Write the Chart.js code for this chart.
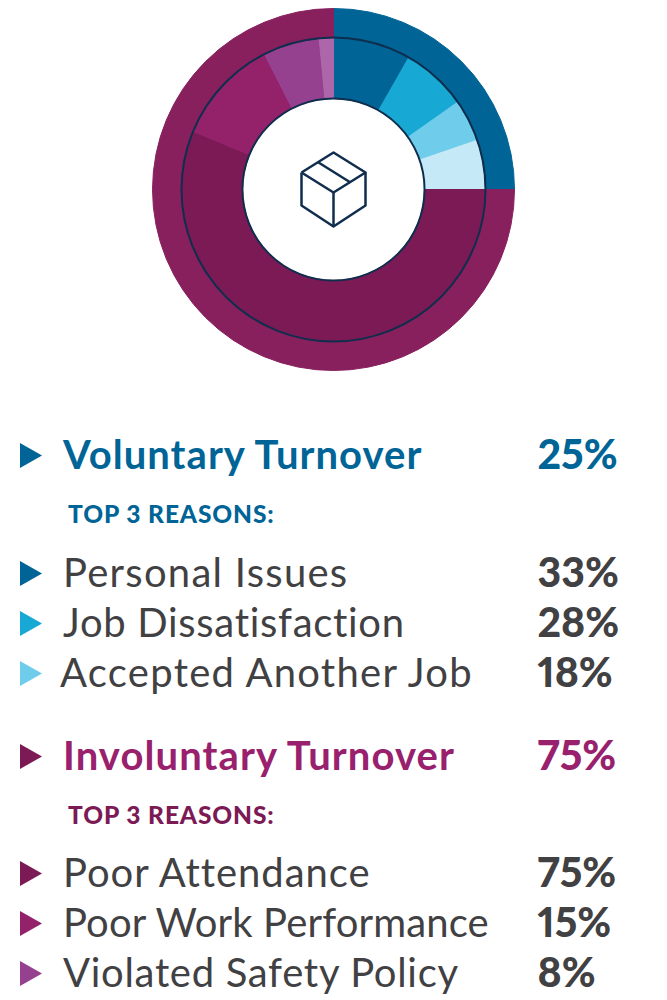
<!DOCTYPE html>
<html>
<head>
<meta charset="utf-8">
<script src="https://cdn.jsdelivr.net/npm/chart.js@4"></script>
<style>
  html, body { margin: 0; padding: 0; background: #fff; }
  body { position: relative; width: 667px; height: 1000px; overflow: hidden; font-family: "Lato", sans-serif; }
  #wrap { position: absolute; left: 151px; top: 7px; width: 365px; height: 365px; }
  .row { position: absolute; left: 0; width: 667px; height: 50px; line-height: 48px; white-space: nowrap; }
  .row svg { position: absolute; left: 20px; top: 13px; }
  .row .name { position: absolute; left: 63px; font-size: 40px; color: #414042; }
  .row .pct { position: absolute; left: 537.5px; font-size: 41px; font-weight: 900; color: #414042; font-variant-numeric: proportional-nums; }
  .row.head .name { font-weight: 700; }
  .row.sub .name { left: 68px; font-size: 24.5px; font-weight: 900; }
</style>
</head>
<body>
<div id="wrap"><canvas id="donut" width="365" height="365"></canvas></div>
<div id="legend"></div>
<script>
const groupLabels = ['Voluntary Turnover', 'Involuntary Turnover'];
const groupValues = [25, 75];
const groupColors = ['#006496', '#88205E'];

const voluntaryLabels = ['Personal Issues', 'Job Dissatisfaction', 'Accepted Another Job', 'Other'];
const voluntaryValues = [33, 28, 18, 21];
const voluntaryColors = ['#006496', '#18A8D4', '#6FCCEB', '#C5E9F6'];

const involuntaryLabels = ['Poor Attendance', 'Poor Work Performance', 'Violated Safety Policy', 'Other'];
const involuntaryValues = [75, 15, 8, 2];
const involuntaryColors = ['#7B1A55', '#93226B', '#964090', '#AD66A9'];

const subTitle = 'TOP 3 REASONS:';
const ringLine = '#0F2D4C';

// inner ring slices are shares of their group
const innerValues = [
  ...voluntaryValues.map(v => v * groupValues[0] / 100),
  ...involuntaryValues.map(v => v * groupValues[1] / 100)
];
const innerColors = [...voluntaryColors, ...involuntaryColors];

const ringLines = {
  id: 'ringLines',
  afterDatasetsDraw(chart) {
    const inner = chart.getDatasetMeta(1).controller;
    const ctx = chart.ctx;
    const x = chart.chartArea.left + chart.chartArea.width / 2;
    const y = chart.chartArea.top + chart.chartArea.height / 2;
    ctx.save();
    ctx.strokeStyle = ringLine;
    ctx.lineWidth = 2;
    [inner.outerRadius, inner.innerRadius].forEach(r => {
      ctx.beginPath();
      ctx.arc(x, y, r, 0, Math.PI * 2);
      ctx.stroke();
    });
    // box icon in the middle
    const box = [
      [[-32, -17], [0, -37], [32, -17], [0, 3], [-32, -17]],
      [[-32, -17], [-32, 16], [0, 37], [32, 16], [32, -17]],
      [[0, 3], [0, 37]],
      [[-15, -27], [17, -7]]
    ];
    ctx.lineWidth = 2.5;
    ctx.lineJoin = 'round';
    box.forEach(path => {
      ctx.beginPath();
      path.forEach((p, i) => i ? ctx.lineTo(x + p[0], y + p[1]) : ctx.moveTo(x + p[0], y + p[1]));
      ctx.stroke();
    });
    ctx.restore();
  }
};

new Chart(document.getElementById('donut'), {
  type: 'doughnut',
  data: {
    labels: [...voluntaryLabels, ...involuntaryLabels],
    datasets: [
      { data: groupValues, backgroundColor: groupColors, borderColor: groupColors, borderWidth: 1, weight: 29 },
      { data: innerValues, backgroundColor: innerColors, borderColor: innerColors, borderWidth: 1, weight: 61 }
    ]
  },
  options: {
    responsive: false,
    animation: false,
    cutout: '50.3%',
    layout: { padding: 1 },
    plugins: { legend: { display: false }, tooltip: { enabled: false } }
  },
  plugins: [ringLines]
});

// legend rows
const legend = document.getElementById('legend');
function addRow(cls, top, name, pct, textColor, arrow, spacing, nameLeft) {
  const row = document.createElement('div');
  row.className = 'row ' + cls;
  row.style.top = top + 'px';
  const colorCss = textColor ? 'color:' + textColor + ';' : '';
  const leftCss = nameLeft ? 'left:' + nameLeft + 'px;' : '';
  let html = '';
  if (arrow) html += '<svg width="24" height="25"><polygon points="0,0 22,12.5 0,25" fill="' + arrow + '"/></svg>';
  html += '<span class="name" style="letter-spacing:' + spacing + 'px;' + colorCss + leftCss + '">' + name + '</span>';
  if (pct !== null) html += '<span class="pct" style="' + colorCss + '">' + pct + '%</span>';
  row.innerHTML = html;
  legend.appendChild(row);
}
const volSpacing = [1.27, 0.7, 1.27];
const invSpacing = [0.95, 0.14, 0.7];
addRow('head', 430, groupLabels[0], groupValues[0], '#006496', '#006496', 1.05);
addRow('sub', 490, subTitle, null, '#006496', null, 0.9);
for (let i = 0; i < 3; i++) addRow('', 548 + i * 50, voluntaryLabels[i], voluntaryValues[i], null, voluntaryColors[i], volSpacing[i], i === 2 ? 60 : 0);
addRow('head', 731, groupLabels[1], groupValues[1], '#98206C', '#7B1A55', 1.1);
addRow('sub', 791, subTitle, null, '#7B1A55', null, 0.9);
for (let i = 0; i < 3; i++) addRow('', 848 + i * 50, involuntaryLabels[i], involuntaryValues[i], null, involuntaryColors[i], invSpacing[i]);
</script>
</body>
</html>
